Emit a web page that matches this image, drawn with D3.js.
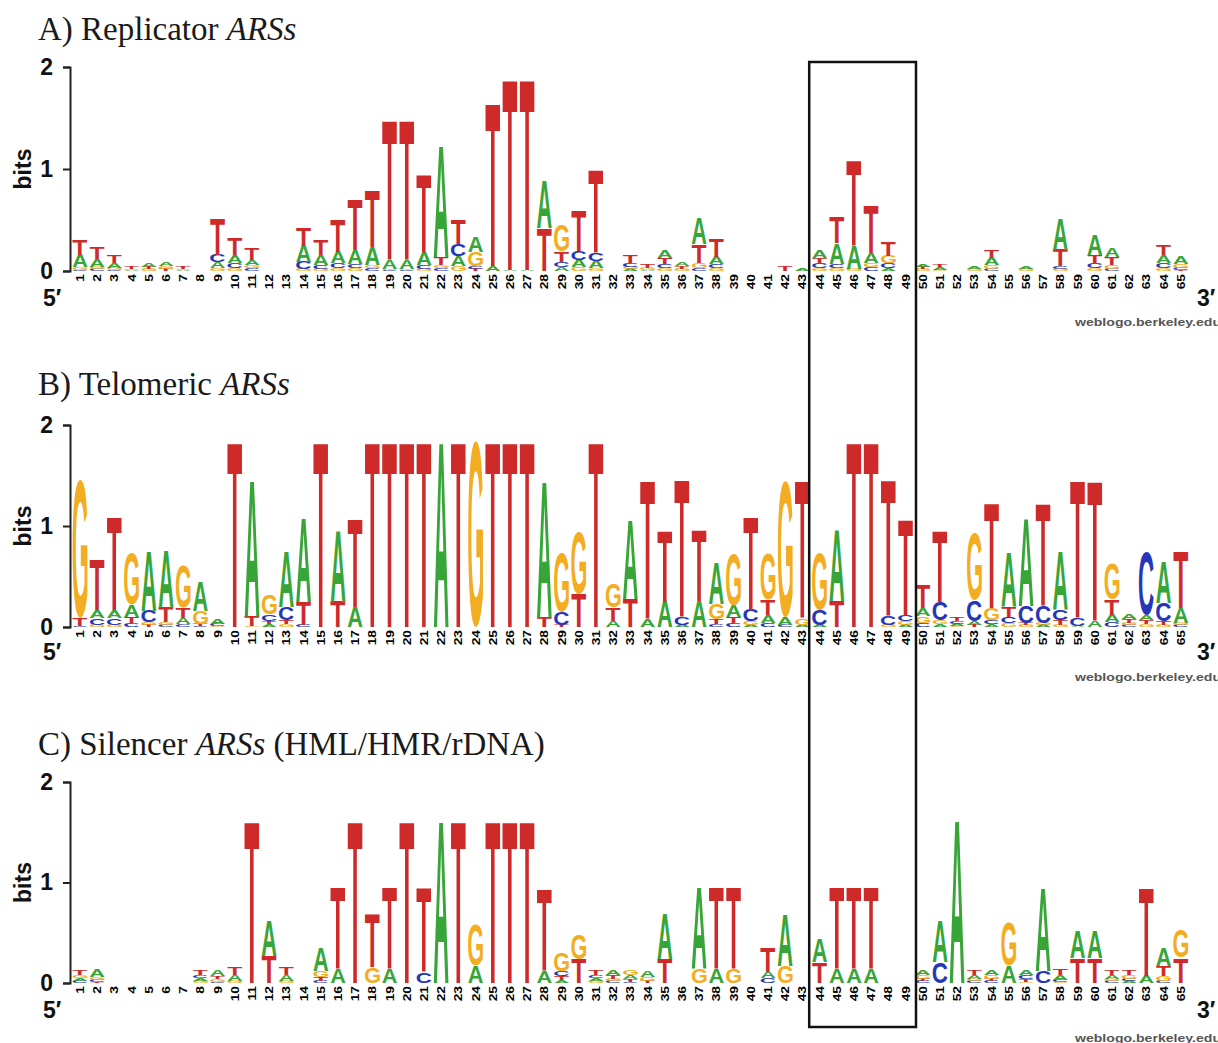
<!DOCTYPE html>
<html>
<head>
<meta charset="utf-8">
<script src="https://cdn.jsdelivr.net/npm/d3@7"></script>
<style>
body { margin: 0; background: #fff; }
</style>
</head>
<body>
<div id="chart"></div>
<script>
const positions = d3.range(1, 66);
const bases = ["A", "C", "G", "T"];
const baseColors = {A: "#38a538", C: "#2636b8", G: "#f2ad22", T: "#cf2a2a"};
const bitTicks = [0, 1, 2];

// A) Replicator ARSs - bits per base at positions 1..65
const repA = [.12,.08,.05,.01,.04,.04,.01,0,.06,.08, .05,0,0,.16,.10,.11,.14,.18,.09,.09,
  .13,1.10,.10,.15,.05,.01,.01,.47,.04,.07, .07,0,.02,.01,.07,.04,.25,.07,0,0,
  0,0,.02,.07,.20,.23,.10,.03,0,.03, .03,0,.03,.07,0,.03,0,.31,0,.20, .09,0,0,.08,.08];
const repC = [.01,.02,.01,0,0,0,0,0,.07,.05, .03,0,0,.07,.04,.05,.04,.03,.01,.01,
  .04,.03,.11,.03,0,0,0,0,.05,.09, .08,0,.04,0,.04,0,.03,.04,0,0,
  0,0,0,.05,.04,0,.04,.05,0,0, 0,0,0,.02,0,0,0,.03,0,.05, .02,0,0,.05,.02];
const repG = [.03,.02,.02,.01,.02,.03,.01,0,.03,.03, .03,0,0,.02,.02,.03,.03,.03,.01,.01,
  .02,.03,.05,.14,0,0,0,0,.26,.04, .03,0,.02,.02,.03,.02,.05,.03,0,0,
  0,0,0,.03,.03,.02,.04,.07,0,.02, .01,0,.02,.04,0,.02,0,.02,0,.03, .04,0,0,.03,.04];
const repT = [.15,.11,.07,.02,.02,.02,.02,0,.36,.16, .11,0,0,.18,.15,.32,.50,.56,1.38,1.38,
  .77,.08,.24,.02,1.60,1.88,1.88,.42,.10,.39, .81,0,.07,.04,.06,.03,.18,.18,0,0,
  0,.05,0,.05,.25,.84,.47,.14,0,.02, .03,0,0,.08,0,0,0,.16,0,.08, .08,0,0,.10,.01];

// B) Telomeric ARSs
const telA = [0,.08,.08,.12,.59,.56,.06,.29,.05,0, 1.35,.03,.55,.83,0,.71,.20,0,0,0,
  0,1.84,0,0,0,0,0,1.35,0,0, 0,.06,.79,.08,.25,.02,.26,.41,.11,.02,
  .08,.08,.02,.02,.71,0,0,0,.02,.08, .03,.02,.04,.03,.54,.87,.02,.58,.01,.06, .07,.05,.05,.41,.15];
const telC = [.01,.07,.07,.04,.11,.02,.03,.01,.02,0, 0,.07,.13,.02,0,0,0,0,0,0,
  0,0,0,0,0,0,0,0,.13,0, 0,0,0,0,0,.08,0,.03,.04,.11,
  .04,.02,0,.15,0,0,0,.09,.06,.04, .18,.03,.21,.04,.06,.17,.17,.10,.08,0, .05,.02,.63,.18,.02];
const telG = [1.37,.02,.02,.51,.03,.03,.41,.13,.01,0, .01,.20,.03,0,0,0,0,0,0,0,
  0,0,0,1.84,0,0,0,0,.58,.61, 0,.23,0,0,0,0,0,.15,.51,.04,
  .45,1.35,.07,.56,0,0,0,.02,.04,.07, .04,.01,.66,.12,.04,.02,.02,.02,0,0, .35,.02,.03,.02,.02];
const telT = [.08,.50,.92,.06,.02,.15,.10,.02,0,1.84, .10,.03,.04,.23,1.84,.25,.87,1.84,1.84,1.84,
  1.84,0,1.84,0,1.84,1.84,1.84,.10,.02,.33, 1.84,.13,.28,1.38,.71,1.36,.71,.05,.06,.92,
  .15,0,1.37,0,.26,1.84,1.84,1.35,.95,.23, .71,.04,.02,1.04,.10,.02,1.02,.05,1.37,1.39, .15,.04,.04,.04,.56];

// C) Silencer ARSs (HML/HMR/rDNA)
const silA = [.03,.07,0,0,0,0,0,.03,.06,.06, 0,.35,.06,0,.23,.14,0,0,.14,0,
  0,1.61,0,.17,0,0,0,.12,.03,0, .03,.05,.04,.06,.45,0,.81,.14,0,0,
  .06,.51,0,.23,.14,.14,.14,0,0,.05, .41,1.63,.04,.05,.17,.05,.83,.05,.27,.27, .04,.02,.07,.18,0];
const silC = [.02,.02,0,0,0,0,0,.03,.01,0, 0,0,0,0,.02,0,0,0,0,0,
  .11,0,0,0,0,0,0,0,.05,0, .03,.02,.01,0,0,0,0,0,0,0,
  .05,0,0,0,0,0,0,0,0,.02, .21,0,.02,.02,0,.04,.12,.02,0,0, .02,.02,0,.02,0];
const silG = [.03,.03,0,0,0,0,0,.02,.03,.02, 0,0,.02,0,.06,0,0,.16,0,0,
  0,0,0,.41,0,0,0,0,.18,.25, .02,.02,.05,.04,0,0,.14,0,.14,0,
  0,.17,0,0,0,0,0,0,0,.04, 0,0,.02,.04,.43,.01,0,.01,0,0, .02,.04,0,.05,.27];
const silT = [.05,.01,0,0,0,0,0,.05,.03,.07, 1.61,.27,.07,0,.04,.81,1.61,.53,.81,1.61,
  .84,0,1.61,0,1.61,1.61,1.61,.82,.04,.24, .05,.04,.03,.02,.24,0,0,.81,.81,0,
  .25,0,0,.21,.81,.81,.81,0,0,.02, 0,0,.05,.02,0,.03,0,.06,.25,.25, .05,.05,.88,.10,.25];

// positions 44-49 are boxed in all three logos
const boxedPositions = [44, 49];

const panels = [
  {label: "A) Replicator ", tail: "", data: {A: repA, C: repC, G: repG, T: repT},
   zero: 271, top: 67, titleY: 40, endY: 306, creditY: 326},
  {label: "B) Telomeric ", tail: "", data: {A: telA, C: telC, G: telG, T: telT},
   zero: 627, top: 425, titleY: 395, endY: 660, creditY: 681},
  {label: "C) Silencer ", tail: " (HML/HMR/rDNA)", data: {A: silA, C: silC, G: silG, T: silT},
   zero: 983, top: 782, titleY: 755, endY: 1018, creditY: 1042}
];

const width = 1218, height = 1043;
const sansFont = "'Liberation Sans', Arial, Helvetica, sans-serif";

const svg = d3.select("#chart")
  .append("svg")
  .attr("width", width)
  .attr("height", height)
  .style("font-family", sansFont);

svg.append("rect").attr("width", width).attr("height", height).attr("fill", "#fff");

const x = d3.scaleBand()
  .domain(positions)
  .range([71.4, 1189.4])
  .paddingInner(0.14)
  .paddingOuter(0.07);

// measure the real ink box of each letter so a stretched glyph fills its slot
const ctx = document.createElement("canvas").getContext("2d");
ctx.font = "bold 100px 'Liberation Sans', Arial, sans-serif";
const glyph = {};
bases.forEach(b => {
  const m = ctx.measureText(b);
  glyph[b] = {
    l: m.actualBoundingBoxLeft || 0,
    r: m.actualBoundingBoxRight || 60,
    a: m.actualBoundingBoxAscent || 72,
    d: m.actualBoundingBoxDescent || 0
  };
});

function drawLetter(g, base, x0, yTop, w, h) {
  const m = glyph[base];
  const sx = w / (m.l + m.r);
  const sy = h / (m.a + m.d);
  g.append("text")
    .attr("transform", `translate(${x0 + m.l * sx},${yTop + m.a * sy}) scale(${sx},${sy})`)
    .attr("font-size", 100)
    .attr("font-weight", "bold")
    .attr("fill", baseColors[base])
    .text(base);
}

panels.forEach(p => {
  const y = d3.scaleLinear().domain([0, 2]).range([p.zero, p.top]);
  const g = svg.append("g");

  // title
  const title = g.append("text")
    .attr("x", 38)
    .attr("y", p.titleY)
    .attr("font-family", "'Liberation Serif', 'Times New Roman', serif")
    .attr("font-size", 33)
    .attr("fill", "#1a1a1a");
  title.append("tspan").text(p.label);
  title.append("tspan").attr("font-style", "italic").text("ARSs");
  if (p.tail) title.append("tspan").text(p.tail);

  // y axis
  const axis = g.append("g")
    .attr("transform", "translate(70,0)")
    .call(d3.axisLeft(y).tickValues(bitTicks).tickSize(7).tickPadding(10).tickFormat(d3.format("d")));
  axis.select(".domain").attr("stroke", "#222").attr("stroke-width", 2);
  axis.selectAll(".tick line").attr("stroke", "#222").attr("stroke-width", 2);
  axis.selectAll(".tick text")
    .attr("font-size", 23)
    .attr("font-weight", "bold")
    .attr("font-family", sansFont)
    .attr("fill", "#111");

  g.append("text")
    .attr("transform", `translate(31,${y(1)}) rotate(-90)`)
    .attr("text-anchor", "middle")
    .attr("font-size", 23)
    .attr("font-weight", "bold")
    .attr("fill", "#111")
    .text("bits");

  // stacks: smallest letter at the bottom, largest on top
  positions.forEach((pos, i) => {
    const col = bases.map(b => ({base: b, bits: p.data[b][i]}))
      .filter(d => d.bits > 0)
      .sort((a, b) => a.bits - b.bits);
    let cum = 0;
    col.forEach(d => {
      const yTop = y(cum + d.bits);
      const h = y(cum) - yTop;
      if (h >= 0.6) drawLetter(g, d.base, x(pos), yTop, x.bandwidth(), h);
      cum += d.bits;
    });

    // position number
    g.append("text")
      .attr("transform", `translate(${x(pos) + x.bandwidth() / 2},${p.zero + 3}) rotate(-90) scale(1.25,1)`)
      .attr("text-anchor", "end")
      .attr("dy", "0.36em")
      .attr("font-size", 11)
      .attr("font-weight", "bold")
      .attr("fill", "#000")
      .text(pos);
  });

  g.append("text").attr("x", 43).attr("y", p.endY)
    .attr("font-size", 23).attr("font-weight", "bold").attr("fill", "#111").text("5\u2032");
  g.append("text").attr("x", 1197).attr("y", p.endY)
    .attr("font-size", 23).attr("font-weight", "bold").attr("fill", "#111").text("3\u2032");
  g.append("text").attr("x", 1075).attr("y", p.creditY)
    .attr("font-size", 11).attr("font-weight", "bold").attr("fill", "#555")
    .attr("textLength", 146).attr("lengthAdjust", "spacingAndGlyphs")
    .text("weblogo.berkeley.edu");
});

// highlight box around positions 44-49
const bx0 = x(boxedPositions[0]) - 3;
const bx1 = x(boxedPositions[1]) + x.bandwidth() + 3;
svg.append("rect")
  .attr("x", bx0)
  .attr("y", 62)
  .attr("width", bx1 - bx0)
  .attr("height", 1027 - 62)
  .attr("fill", "none")
  .attr("stroke", "#111")
  .attr("stroke-width", 2.5);
</script>
</body>
</html>
